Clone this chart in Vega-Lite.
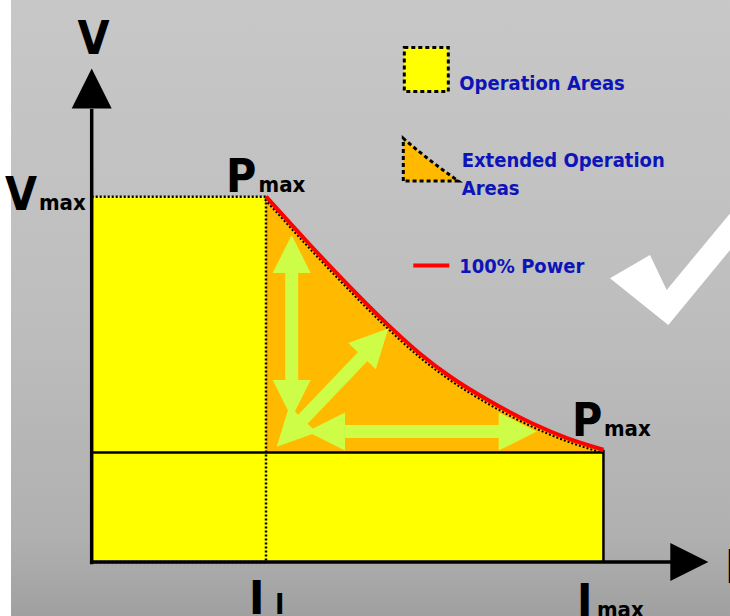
{
  "$schema": "https://vega.github.io/schema/vega-lite/v6.json",
  "width": 730,
  "height": 616,
  "padding": 0,
  "autosize": {"type": "none"},
  "background": "#ffffff",
  "config": {"view": {"stroke": null}},
  "datasets": {
    "bg": [{"I": -4.63, "I2": 40, "V": -20, "V2": 160}],
    "opRect": [{"I": 0, "I2": 10, "V": 0, "V2": 100}],
    "bottomRect": [{"I": 0, "I2": 29.36, "V": 0, "V2": 30}],
    "edges": [
      {"I": 0, "I2": 29.36, "V": 30, "V2": 30},
      {"I": 29.36, "I2": 29.36, "V": 0, "V2": 30.74}
    ],
    "curve": [
      {"I": 10.0, "V": 100.05},
      {"I": 12.295, "V": 88.01},
      {"I": 14.59, "V": 76.4},
      {"I": 17.0, "V": 64.91},
      {"I": 18.836, "V": 57.02},
      {"I": 20.557, "V": 50.78},
      {"I": 22.852, "V": 43.99},
      {"I": 25.32, "V": 37.86},
      {"I": 27.27, "V": 33.94},
      {"I": 29.36, "V": 30.74}
    ],
    "shafts": [
      {"I": 11.474, "I2": 11.474, "V": 79.93, "V2": 49.0},
      {"I": 14.36, "I2": 23.52, "V": 35.72, "V2": 35.72},
      {"I": 12.008, "I2": 15.623, "V": 38.52, "V2": 56.58}
    ],
    "headUp": [{"I": 11.474, "V": 89.52}],
    "headDown": [{"I": 11.474, "V": 39.42}],
    "headLeft": [{"I": 12.352, "V": 35.72}],
    "headRight": [{"I": 25.531, "V": 35.72}],
    "headUR": [{"I": 17.017, "V": 63.9}],
    "headDL": [{"I": 10.614, "V": 31.56}],
    "axes": [
      {"I": 0, "I2": 0, "V": -0.6, "V2": 124},
      {"I": -0.1, "I2": 33.3, "V": 0, "V2": 0}
    ],
    "axisHeadUp": [{"I": 0, "V": 135.09}],
    "axisHeadRight": [{"I": 35.376, "V": 0}],
    "bigLabels": [
      {"t": "V", "I": -0.815, "V": 139.07},
      {"t": "V", "I": -4.974, "V": 96.36},
      {"t": "P", "I": 7.705, "V": 101.37},
      {"t": "P", "I": 27.556, "V": 34.49},
      {"t": "I", "I": 9.025, "V": -14.23},
      {"t": "I", "I": 27.84, "V": -15.06},
      {"t": "I", "I": 36.33, "V": -5.75}
    ],
    "subLabels": [
      {"t": "max", "I": -3.024, "V": 96.36},
      {"t": "max", "I": 9.57, "V": 101.37},
      {"t": "max", "I": 29.39, "V": 34.49},
      {"t": "max", "I": 28.99, "V": -15.06}
    ],
    "subI": [
      {"t": "I", "I": 10.516, "V": -14.10}
    ],
    "legendTexts": [
      {"t": "Operation Areas", "I": 21.09, "V": 129.21},
      {"t": "Extended Operation", "I": 21.228, "V": 108.0},
      {"t": "Areas", "I": 21.228, "V": 100.47},
      {"t": "100% Power", "I": 21.09, "V": 78.98}
    ],
    "legendSquare": [{"I": 19.197, "V": 134.82}],
    "legendTriangle": [{"I": 17.877, "V": 104.30}],
    "legendLine": [{"I": 18.451, "I2": 20.516, "V": 81.17, "V2": 81.17}],
    "check": [{"I": 33.08, "V": 64.88}]
  },
  "encoding": {
    "x": {"field": "I", "type": "quantitative", "scale": {"domain": [-5.261, 36.621], "nice": false, "zero": false}, "axis": null},
    "y": {"field": "V", "type": "quantitative", "scale": {"domain": [-14.78, 153.85], "nice": false, "zero": false}, "axis": null}
  },
  "layer": [
    {
      "data": {"name": "bg"},
      "mark": {"type": "rect", "stroke": null, "fill": {"gradient": "linear", "x1": 0, "y1": 0, "x2": 0, "y2": 1, "stops": [
        {"offset": 0, "color": "#c8c8c8"},
        {"offset": 0.5, "color": "#bebebe"},
        {"offset": 0.85, "color": "#b0b0b0"},
        {"offset": 1, "color": "#9c9c9c"}
      ]}},
      "encoding": {"x2": {"field": "I2"}, "y2": {"field": "V2"}}
    },
    {
      "data": {"name": "opRect"},
      "mark": {"type": "rect", "fill": "#ffff00", "stroke": null},
      "encoding": {"x2": {"field": "I2"}, "y2": {"field": "V2"}}
    },
    {
      "data": {"name": "curve"},
      "mark": {"type": "area", "fill": "#ffba00", "interpolate": "monotone", "stroke": null},
      "encoding": {"y2": {"datum": 30}}
    },
    {
      "data": {"name": "bottomRect"},
      "mark": {"type": "rect", "fill": "#ffff00", "stroke": null},
      "encoding": {"x2": {"field": "I2"}, "y2": {"field": "V2"}}
    },
    {
      "data": {"name": "edges"},
      "mark": {"type": "rule", "color": "#000000", "strokeWidth": 2.5},
      "encoding": {"x2": {"field": "I2"}, "y2": {"field": "V2"}}
    },
    {
      "data": {"name": "opRect"},
      "mark": {"type": "rect", "fill": null, "fillOpacity": 0, "stroke": "#000000", "strokeWidth": 2.5, "strokeDash": [2, 2]},
      "encoding": {"x2": {"field": "I2"}, "y2": {"field": "V2"}}
    },
    {
      "data": {"name": "curve"},
      "mark": {"type": "line", "stroke": "#000000", "strokeWidth": 2, "strokeDash": [2, 2], "interpolate": "monotone", "yOffset": 3, "xOffset": -1},
      "encoding": {}
    },
    {
      "data": {"name": "curve"},
      "mark": {"type": "line", "stroke": "#ff0000", "strokeWidth": 4, "interpolate": "monotone"},
      "encoding": {}
    },
    {
      "data": {"name": "shafts"},
      "mark": {"type": "rule", "color": "#cdfd46", "strokeWidth": 13, "strokeCap": "butt"},
      "encoding": {"x2": {"field": "I2"}, "y2": {"field": "V2"}}
    },
    {
      "data": {"name": "headUp"},
      "mark": {"type": "point", "shape": "M0,0L-1,2L1,2Z", "filled": true, "fill": "#cdfd46", "strokeWidth": 0, "opacity": 1, "size": 1444, "angle": 0}
    },
    {
      "data": {"name": "headDown"},
      "mark": {"type": "point", "shape": "M0,0L-1,2L1,2Z", "filled": true, "fill": "#cdfd46", "strokeWidth": 0, "opacity": 1, "size": 1444, "angle": 180}
    },
    {
      "data": {"name": "headLeft"},
      "mark": {"type": "point", "shape": "M0,0L-1,2L1,2Z", "filled": true, "fill": "#cdfd46", "strokeWidth": 0, "opacity": 1, "size": 1444, "angle": 270}
    },
    {
      "data": {"name": "headRight"},
      "mark": {"type": "point", "shape": "M0,0L-1,2L1,2Z", "filled": true, "fill": "#cdfd46", "strokeWidth": 0, "opacity": 1, "size": 1444, "angle": 90}
    },
    {
      "data": {"name": "headUR"},
      "mark": {"type": "point", "shape": "M0,0L-1,2L1,2Z", "filled": true, "fill": "#cdfd46", "strokeWidth": 0, "opacity": 1, "size": 1444, "angle": 43.7}
    },
    {
      "data": {"name": "headDL"},
      "mark": {"type": "point", "shape": "M0,0L-1,2L1,2Z", "filled": true, "fill": "#cdfd46", "strokeWidth": 0, "opacity": 1, "size": 1444, "angle": 223.7}
    },
    {
      "data": {"name": "axes"},
      "mark": {"type": "rule", "color": "#000000", "strokeWidth": 3.5, "strokeCap": "butt"},
      "encoding": {"x2": {"field": "I2"}, "y2": {"field": "V2"}}
    },
    {
      "data": {"name": "axisHeadUp"},
      "mark": {"type": "point", "shape": "M0,0L-1,2L1,2Z", "filled": true, "fill": "#000000", "strokeWidth": 0, "opacity": 1, "size": 1600, "angle": 0}
    },
    {
      "data": {"name": "axisHeadRight"},
      "mark": {"type": "point", "shape": "M0,0L-1,2L1,2Z", "filled": true, "fill": "#000000", "strokeWidth": 0, "opacity": 1, "size": 1444, "angle": 90}
    },
    {
      "data": {"name": "bigLabels"},
      "mark": {"type": "text", "font": "DejaVu Sans Condensed", "fontWeight": "bold", "fontSize": 46, "align": "left", "baseline": "alphabetic", "fill": "#000000"},
      "encoding": {"text": {"field": "t"}}
    },
    {
      "data": {"name": "subLabels"},
      "mark": {"type": "text", "font": "DejaVu Sans Condensed", "fontWeight": "bold", "fontSize": 22, "align": "left", "baseline": "alphabetic", "fill": "#000000"},
      "encoding": {"text": {"field": "t"}}
    },
    {
      "data": {"name": "subI"},
      "mark": {"type": "text", "font": "DejaVu Sans Condensed", "fontWeight": "bold", "fontSize": 28, "align": "left", "baseline": "alphabetic", "fill": "#000000"},
      "encoding": {"text": {"field": "t"}}
    },
    {
      "data": {"name": "legendSquare"},
      "mark": {"type": "point", "shape": "square", "filled": true, "fill": "#ffff00", "stroke": "#000000", "strokeWidth": 3, "strokeDash": [4, 3], "opacity": 1, "size": 1936}
    },
    {
      "data": {"name": "legendTriangle"},
      "mark": {"type": "point", "shape": "M0,0L0,-2.03Q1.25,-0.95,2.62,0Z", "filled": true, "fill": "#ffba00", "stroke": "#000000", "strokeWidth": 3, "strokeDash": [4, 3], "opacity": 1, "size": 1764}
    },
    {
      "data": {"name": "legendLine"},
      "mark": {"type": "rule", "color": "#ff0000", "strokeWidth": 4},
      "encoding": {"x2": {"field": "I2"}, "y2": {"field": "V2"}}
    },
    {
      "data": {"name": "legendTexts"},
      "mark": {"type": "text", "font": "DejaVu Sans Condensed", "fontWeight": "bold", "fontSize": 20, "align": "left", "baseline": "alphabetic", "fill": "#0d14b8"},
      "encoding": {"text": {"field": "t"}}
    },
    {
      "data": {"name": "check"},
      "mark": {"type": "point", "shape": "M0,0L-2.915,-2.335L-0.915,-3.5L-0.08,-1.75L6,-9.1L7,-8.5Z", "filled": true, "fill": "#ffffff", "strokeWidth": 0, "opacity": 1, "size": 1600}
    }
  ]
}
